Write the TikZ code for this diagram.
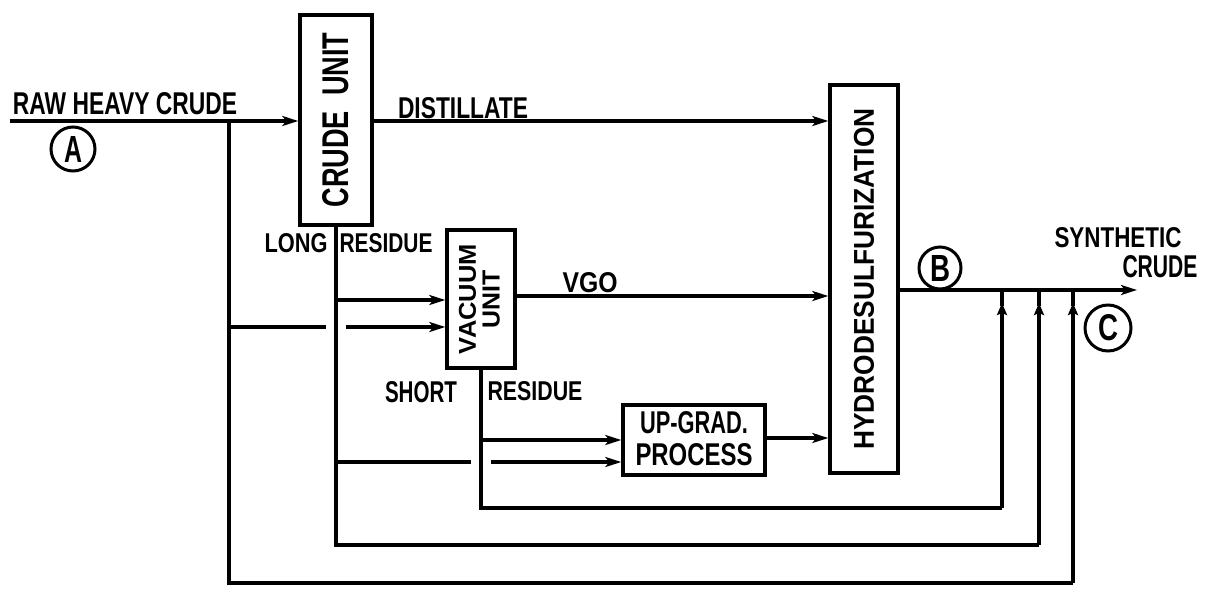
\documentclass[tikz,border=0pt]{standalone}
\usepackage{fontspec}
\setmainfont{Liberation Sans}
\usetikzlibrary{arrows.meta}
\newcommand{\fitt}[3]{\resizebox{#1pt}{#2pt}{\bfseries #3}}
\tikzset{
  flow/.style={line width=3.4pt, line join=miter},
  arr/.style={flow, -{Stealth[length=16pt,width=10pt,inset=4pt]}},
  uparr/.style={flow, -{Stealth[length=12pt,width=10pt,inset=2pt]}},
  unitbox/.style={draw, line width=3.4pt, inner sep=0pt},
  tag/.style={circle, draw, line width=3pt, inner sep=0pt},
  lbl/.style={inner sep=0pt, anchor=center},
}
\begin{document}
\begin{tikzpicture}[x=1pt,y=-1pt]
\useasboundingbox (0,0) rectangle (1205,595);
\fill[white] (0,0) rectangle (1205,595);

% units
\node[unitbox, minimum width=72pt, minimum height=210pt] (crude) at (336,120)
  {\rotatebox{90}{\fitt{175}{26}{CRUDE\ \ UNIT}}};
\node[unitbox, minimum width=68pt, minimum height=138pt] (vac) at (481,299)
  {\rotatebox{90}{\begin{tabular}{@{}c@{}}\fitt{110}{17}{VACUUM}\\[3pt]\fitt{58}{17}{UNIT}\end{tabular}}};
\node[unitbox, minimum width=142pt, minimum height=70pt] (upg) at (694,440)
  {\begin{tabular}{@{}c@{}}\fitt{108}{22}{UP-GRAD.}\\[6pt]\fitt{117}{22}{PROCESS}\end{tabular}};
\node[unitbox, minimum width=68pt, minimum height=388pt] (hds) at (864,279)
  {\rotatebox{90}{\fitt{341}{20}{HYDRODESULFURIZATION}}};

% labels
\node[lbl] (tRaw) at (125,104) {\fitt{224}{22}{RAW HEAVY CRUDE}};
\node[tag, minimum size=44pt] (cA) at (73,149) {\fitt{18}{26}{A}};
\node[lbl] (tDist) at (463,108) {\fitt{130}{21}{DISTILLATE}};
\node[lbl] (tLong) at (296,243) {\fitt{63}{19}{LONG}};
\node[lbl] (tLres) at (386,243) {\fitt{93}{19}{RESIDUE}};
\node[lbl] (tVgo) at (590,283) {\fitt{55}{20}{VGO}};
\node[lbl] (tShort) at (421,392) {\fitt{72}{21}{SHORT}};
\node[lbl] (tSres) at (535,391) {\fitt{95}{19}{RESIDUE}};
\node[lbl] (tSyn) at (1118,238) {\fitt{127}{20}{SYNTHETIC}};
\node[lbl] (tCr) at (1160,267) {\fitt{75}{22}{CRUDE}};
\node[tag, minimum size=42pt] (cB) at (940,268) {\fitt{20}{26}{B}};
\node[tag, minimum size=46pt] (cC) at (1108,328) {\fitt{20}{26}{C}};

% coordinates
\coordinate (rawS) at (10,121);
\coordinate (rawJ) at (229,121);
\coordinate (rawB) at (229,583);
\coordinate (rawR) at (1073,583);
\coordinate (rawBr) at (229,327);
\coordinate (hopA1) at (326,327);
\coordinate (hopA2) at (346,327);
\coordinate (lrB) at (336,545);
\coordinate (lrR) at (1039,545);
\coordinate (lrBr1) at (336,300);
\coordinate (lrBr2) at (336,462);
\coordinate (hopB1) at (471,462);
\coordinate (hopB2) at (491,462);
\coordinate (srB) at (481,508);
\coordinate (srR) at (1002,508);
\coordinate (srBr) at (481,440);
\coordinate (outE) at (1137,290);

% feed
\draw[arr] (rawS) -- (rawS -| crude.west);
\draw[flow] (rawJ) -- (rawB) -- (rawR);
\draw[uparr] (rawR) -- (1073,303);
\draw[flow] (1073,306) -- (rawR |- outE);
\draw[flow] (rawBr) -- (hopA1);
\draw[arr] (hopA2) -- (hopA2 -| vac.west);

% distillate
\draw[arr] (crude.east |- rawS) -- (hds.west |- rawS);

% long residue
\draw[flow] (crude.south) -- (lrB) -- (lrR);
\draw[uparr] (lrR) -- (1039,303);
\draw[flow] (1039,306) -- (lrR |- outE);
\draw[arr] (lrBr1) -- (lrBr1 -| vac.west);
\draw[flow] (lrBr2) -- (hopB1);
\draw[arr] (hopB2) -- (hopB2 -| upg.west);

% short residue
\draw[flow] (vac.south) -- (srB) -- (srR);
\draw[uparr] (srR) -- (1002,303);
\draw[flow] (1002,306) -- (srR |- outE);
\draw[arr] (srBr) -- (srBr -| upg.west);

% VGO and upgraded
\draw[arr] (vac.east |- 0,296) -- (hds.west |- 0,296);
\draw[arr] (upg.east |- 0,438) -- (hds.west |- 0,438);

% product
\draw[arr] (hds.east |- outE) -- (outE);
\end{tikzpicture}
\end{document}
